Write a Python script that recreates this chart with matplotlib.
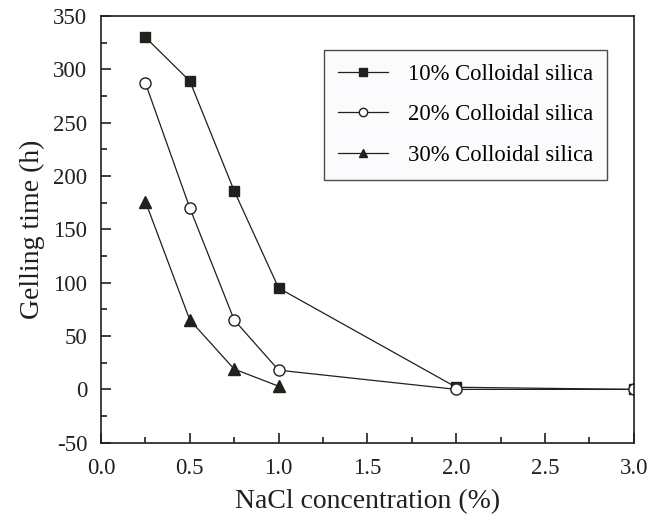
import matplotlib
matplotlib.use("Agg")
import matplotlib.pyplot as plt
from matplotlib.ticker import MultipleLocator, FuncFormatter

plt.rcParams['font.family'] = ['Liberation Serif', 'DejaVu Serif']
plt.rcParams['axes.unicode_minus'] = False

x10 = [0.25, 0.5, 0.75, 1.0, 2.0, 3.0]
y10 = [330, 289, 186, 95, 2, 0]
x20 = [0.25, 0.5, 0.75, 1.0, 2.0, 3.0]
y20 = [287, 170, 65, 18, 0, 0]
x30 = [0.25, 0.5, 0.75, 1.0]
y30 = [176, 65, 19, 3]
labels = ['10% Colloidal silica', '20% Colloidal silica', '30% Colloidal silica']

fig = plt.figure(figsize=(6.52, 5.16), dpi=100)
ax = fig.add_axes([0.155, 0.142, 0.817, 0.827])
c = '#231f1a'
ax.plot(x10, y10, '-', color=c, lw=0.9, marker='s', ms=7.5, mfc=c, mec=c, label=labels[0])
ax.plot(x20, y20, '-', color=c, lw=0.9, marker='o', ms=8, mfc='white', mec=c, label=labels[1])
ax.plot(x30, y30, '-', color=c, lw=0.9, marker='^', ms=8.5, mfc=c, mec=c, label=labels[2])

ax.set_xlim(0, 3.0)
ax.set_ylim(-50, 350)
ax.xaxis.set_major_locator(MultipleLocator(0.5))
ax.xaxis.set_minor_locator(MultipleLocator(0.25))
ax.yaxis.set_major_locator(MultipleLocator(50))
ax.yaxis.set_minor_locator(MultipleLocator(25))
ax.tick_params(which='both', direction='in', top=False, right=False, labelsize=16.5, width=1.2, colors=c)
ax.tick_params(which='major', length=7)
ax.tick_params(which='minor', length=4)
ax.tick_params(axis='x', which='both', pad=11)
ax.tick_params(axis='y', which='both', pad=10)
ax.xaxis.set_major_formatter(FuncFormatter(lambda v, p: f'{v:.1f}'))
ax.yaxis.set_major_formatter(FuncFormatter(lambda v, p: f'{v:.0f}'))
for s in ax.spines.values():
    s.set_linewidth(1.2)
    s.set_color(c)
ax.set_xlabel('NaCl concentration (%)', fontsize=20, color=c, labelpad=7)
ax.set_ylabel('Gelling time (h)', fontsize=20, color=c, labelpad=6)
leg = ax.legend(loc='upper left', bbox_to_anchor=(0.418, 0.92), borderaxespad=0, fontsize=16.3,
                frameon=True, fancybox=False, edgecolor=c, labelspacing=0.85, handlelength=2.2,
                markerscale=0.75, borderpad=0.62, handletextpad=0.9)
leg.get_frame().set_linewidth(1.0)
leg.get_frame().set_facecolor('#fafbfd')
fig.savefig('out.png', dpi=100)
